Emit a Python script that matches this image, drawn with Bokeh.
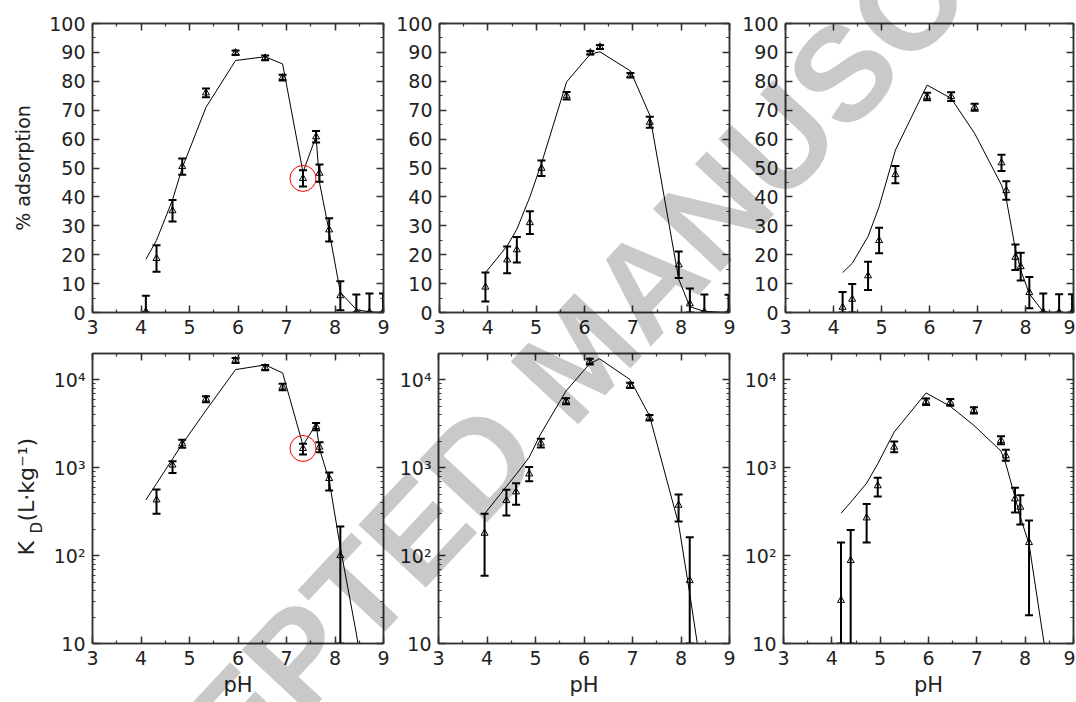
import numpy as np
from bokeh.plotting import figure
from bokeh.models import (ColumnDataSource, Whisker, TeeHead, LinearAxis, LogAxis,
                          SingleIntervalTicker, FixedTicker, Div, CustomJSTickFormatter)
from bokeh.core.properties import value
from bokeh.layouts import row, column
from bokeh.embed import file_html
from bokeh.resources import INLINE

# ---- data ----
# panel a
ph_a = [4.10, 4.32, 4.65, 4.85, 5.34, 5.95, 6.56, 6.92, 7.34, 7.61, 7.68, 7.88, 8.11, 8.44, 8.71, 8.99]
ads_a = [0.3, 18.7, 35.2, 50.5, 76.0, 89.9, 88.1, 81.3, 46.4, 60.8, 48.2, 28.6, 5.8, 0.2, 0.1, 0.1]
ads_a_err = [5.5, 4.6, 3.7, 2.8, 1.5, 0.8, 0.8, 1.0, 2.8, 2.0, 3.0, 4.0, 5.0, 6.0, 6.5, 6.5]
ads_a_model = [18.4, 25.0, 39.0, 50.0, 71.0, 87.2, 88.5, 86.0, 48.5, 61.0, 45.0, 28.0, 7.0, 1.0, 0.2, 0.0]
kd_ph_a = [4.32, 4.65, 4.85, 5.34, 5.95, 6.56, 6.92, 7.34, 7.61, 7.68, 7.88, 8.11]
kd_a = [431, 1075, 1880, 6070, 16760, 13830, 8310, 1660, 2950, 1720, 755, 100]
kd_a_lo = [299, 870, 1690, 5560, 15630, 12900, 7620, 1420, 2670, 1500, 551, 10]
kd_a_hi = [566, 1190, 2090, 6520, 17800, 14800, 9080, 1880, 3240, 1950, 885, 214]
kd_a_model = [431, 661, 1260, 1860, 4510, 13120, 14820, 12020, 1800, 3120, 1650, 716, 124, 13, 1.5, 0.2]

# panel b
ph_b = [3.95, 4.40, 4.60, 4.87, 5.11, 5.63, 6.12, 6.32, 6.95, 7.35, 7.95, 8.18, 8.48, 8.98]
ads_b = [8.8, 18.2, 21.7, 31.1, 49.9, 75.0, 89.9, 91.9, 82.1, 65.8, 16.5, 3.0, 0.2, 0.1]
ads_b_err = [5.0, 4.6, 4.4, 3.9, 2.7, 1.3, 0.6, 0.7, 0.8, 1.9, 4.6, 5.3, 6.0, 6.0]
ads_b_model = [13.8, 23.0, 28.8, 40.0, 51.6, 79.8, 89.4, 90.2, 83.6, 68.3, 11.5, 2.0, 0.4, 0.0]
kd_ph_b = [3.95, 4.40, 4.60, 4.87, 5.11, 5.63, 6.12, 6.95, 7.35, 7.95, 8.18]
kd_b = [180, 424, 532, 852, 1910, 5750, 16180, 8700, 3720, 375, 52]
kd_b_lo = [59, 286, 380, 705, 1700, 5300, 15000, 8100, 3450, 245, 10]
kd_b_hi = [299, 561, 668, 1020, 2140, 6200, 17400, 9300, 4000, 497, 162]
kd_b_model = [299, 612, 840, 1320, 2440, 7500, 15350, 17400, 10100, 3920, 230, 37, 3, 0.3]

# panel c
ph_c = [4.19, 4.39, 4.72, 4.95, 5.29, 5.95, 6.45, 6.94, 7.50, 7.60, 7.79, 7.90, 8.08, 8.37, 8.70, 8.97]
ads_c = [1.8, 4.6, 12.7, 24.9, 47.7, 74.7, 74.7, 71.0, 51.8, 42.2, 19.1, 15.9, 6.9, 0.2, 0.1, 0.1]
ads_c_err = [5.3, 5.3, 4.9, 4.4, 3.0, 1.3, 1.5, 1.2, 2.8, 3.2, 4.4, 4.8, 5.4, 6.4, 6.2, 6.2]
ads_c_model = [13.8, 17.0, 26.3, 36.6, 56.2, 78.7, 74.1, 62.0, 44.1, 39.2, 21.9, 14.7, 6.5, 0.2, 0.0, 0.0]
kd_ph_c = [4.19, 4.39, 4.72, 4.95, 5.29, 5.95, 6.45, 6.94, 7.50, 7.60, 7.79, 7.90, 8.08]
kd_c = [31, 88, 269, 624, 1720, 5660, 5560, 4510, 2050, 1370, 443, 356, 141]
kd_c_lo = [10, 10, 141, 471, 1500, 5200, 5100, 4150, 1850, 1200, 309, 226, 21]
kd_c_hi = [141, 196, 388, 769, 1990, 6150, 6050, 4900, 2280, 1600, 591, 488, 251]
kd_c_model = [304, 405, 668, 1110, 2550, 7110, 5010, 3040, 1550, 1110, 463, 274, 136, 12, 1, 0.3]

# circled point (panel a)
mark_ph = [7.34]
mark_ads = [46.4]
mark_kd = [1660]

log_major = [10, 100, 1000, 10000]
log_labels = {10: "10", 100: "10²", 1000: "10³", 10000: "10⁴"}

FONT = "DejaVu Sans"
AX = "#333333"


def log_minor():
    return [m * d for d in (10, 100, 1000, 10000) for m in range(2, 10) if m * d <= 20000]


def style_axis(ax, labels=True):
    ax.major_tick_in = 7
    ax.major_tick_out = 0
    ax.minor_tick_in = 3
    ax.minor_tick_out = 0
    ax.major_tick_line_color = AX
    ax.minor_tick_line_color = AX
    ax.major_tick_line_width = 1.5
    ax.minor_tick_line_width = 1.2
    ax.axis_line_color = AX
    ax.axis_line_width = 1.5
    ax.major_label_text_font = FONT
    ax.axis_label_text_font = FONT
    ax.axis_label_text_font_style = "normal"
    ax.axis_label_text_color = "#222222"
    if labels:
        ax.major_label_text_color = "#222222"
        ax.major_label_text_font_size = "19px"
        ax.major_label_standoff = 7
    else:
        # mirrored axis: ticks only
        ax.formatter = CustomJSTickFormatter(code="return ''")
        ax.major_label_text_color = None
        ax.major_label_text_font_size = "1px"
        ax.major_label_standoff = 0


def panel(log, width, height, left, right, top, bottom):
    kw = dict(width=width, height=height, x_range=(3, 9),
              output_backend="svg", toolbar_location=None,
              min_border_left=left, min_border_right=right,
              min_border_top=top, min_border_bottom=bottom)
    if log:
        p = figure(y_range=(10, 20000), y_axis_type="log", **kw)
    else:
        p = figure(y_range=(0, 100), **kw)
    p.xgrid.visible = False
    p.ygrid.visible = False
    p.outline_line_color = AX
    p.outline_line_width = 1.5

    xax = p.below[0]
    yax = p.left[0]
    xax.ticker = SingleIntervalTicker(interval=1, num_minor_ticks=2)
    style_axis(xax)
    top_ax = LinearAxis(ticker=SingleIntervalTicker(interval=1, num_minor_ticks=2))
    style_axis(top_ax, labels=False)
    p.add_layout(top_ax, "above")

    if log:
        yax.ticker = FixedTicker(ticks=log_major, minor_ticks=log_minor())
        yax.major_label_overrides = log_labels
        right_ax = LogAxis(ticker=FixedTicker(ticks=log_major, minor_ticks=log_minor()))
    else:
        yax.ticker = SingleIntervalTicker(interval=10, num_minor_ticks=2)
        right_ax = LinearAxis(ticker=SingleIntervalTicker(interval=10, num_minor_ticks=2))
    style_axis(yax)
    style_axis(right_ax, labels=False)
    p.add_layout(right_ax, "right")
    return p


def draw(p, ph, y, lo, hi, model_ph, model):
    p.line(model_ph, model, line_color="black", line_width=1)
    src = ColumnDataSource(dict(x=ph, lower=lo, upper=hi))
    p.add_layout(Whisker(source=src, base="x", lower="lower", upper="upper",
                         line_color="black", line_width=2,
                         upper_head=TeeHead(size=8, line_width=2, line_color="black"),
                         lower_head=TeeHead(size=8, line_width=2, line_color="black")))
    p.scatter(ph, y, marker="triangle", size=7, fill_color=None,
              line_color="black", line_width=1)


def ads_bounds(y, err):
    y = np.array(y)
    err = np.array(err)
    return list(np.maximum(0, y - err)), list(np.minimum(100, y + err))


TOP_H, BOT_H = 342, 360
W1, W2, W3 = 393, 346, 336
LAB_W = 44
BOT_TOP, BOT_BOTTOM = 11, 59

# top row: % adsorption
pa = panel(False, W1, TOP_H, 92, 10, 23, 30)
lo, hi = ads_bounds(ads_a, ads_a_err)
draw(pa, ph_a, ads_a, lo, hi, ph_a, ads_a_model)
pa.scatter(mark_ph, mark_ads, marker="circle", size=26, fill_color=None,
           line_color="red", line_width=1)
pa.left[0].axis_label = "% adsorption"
pa.left[0].axis_label_text_font_size = "19px"
pa.left[0].axis_label_standoff = 12

pb = panel(False, W2, TOP_H, 45, 10, 23, 30)
lo, hi = ads_bounds(ads_b, ads_b_err)
draw(pb, ph_b, ads_b, lo, hi, ph_b, ads_b_model)

pc = panel(False, W3, TOP_H, 44, 2, 23, 30)
lo, hi = ads_bounds(ads_c, ads_c_err)
draw(pc, ph_c, ads_c, lo, hi, ph_c, ads_c_model)

# bottom row: K_D
pd_ = panel(True, W1 - LAB_W, BOT_H, 92 - LAB_W, 10, BOT_TOP, BOT_BOTTOM)
draw(pd_, kd_ph_a, kd_a, kd_a_lo, kd_a_hi, ph_a, kd_a_model)
pd_.scatter(mark_ph, mark_kd, marker="circle", size=26, fill_color=None,
            line_color="red", line_width=1)

# y label "K_D (L·kg⁻¹)" built from pieces (subscript D) in a narrow strip;
# the strip's frame is aligned with the panel frames, so y here is page pixels
frame_top = TOP_H + BOT_TOP
frame_bottom = TOP_H + BOT_H - BOT_BOTTOM
lab = figure(width=LAB_W, height=BOT_H, x_range=(0, LAB_W),
             y_range=(frame_bottom, frame_top), title=None,
             output_backend="svg", toolbar_location=None,
             min_border_left=0, min_border_right=0,
             min_border_top=BOT_TOP, min_border_bottom=BOT_BOTTOM,
             x_axis_location=None, y_axis_location=None, outline_line_color=None)
lab.grid.visible = False
for txt, size, lx, ly in [("K", "22px", 25.5, 555), ("D", "15px", 36, 533),
                          ("(L·kg⁻¹)", "22px", 25.5, 521)]:
    lab.text(x=[lx], y=[ly], text=[txt], angle=np.pi / 2, text_align="left",
             text_baseline="middle", text_font=value(FONT),
             text_font_size=value(size), text_color="#222222")

pe = panel(True, W2, BOT_H, 45, 10, BOT_TOP, BOT_BOTTOM)
draw(pe, kd_ph_b, kd_b, kd_b_lo, kd_b_hi, ph_b, kd_b_model)

pf = panel(True, W3, BOT_H, 44, 2, BOT_TOP, BOT_BOTTOM)
draw(pf, kd_ph_c, kd_c, kd_c_lo, kd_c_hi, ph_c, kd_c_model)

for p in (pd_, pe, pf):
    p.below[0].axis_label = "pH"
    p.below[0].axis_label_text_font_size = "21px"
    p.below[0].axis_label_standoff = 5

# watermark laid over the whole grid
wm_html = (
    '<div style="position:relative;width:0;height:0;">'
    '<div style="position:absolute;left:574px;top:-363px;z-index:50;'
    'transform:translate(-50%,-50%) rotate(-47deg);white-space:nowrap;'
    "font-family:'Liberation Sans';font-weight:bold;font-size:134px;line-height:1;"
    'color:rgba(0,0,0,0.21);pointer-events:none;">ACCEPTED MANUSCRIPT</div></div>'
)
wm = Div(text=wm_html, width=0, height=0)

layout = column(row(pa, pb, pc), row(lab, pd_, pe, pf), wm)

open("out.html", "w").write(file_html(layout, INLINE))
